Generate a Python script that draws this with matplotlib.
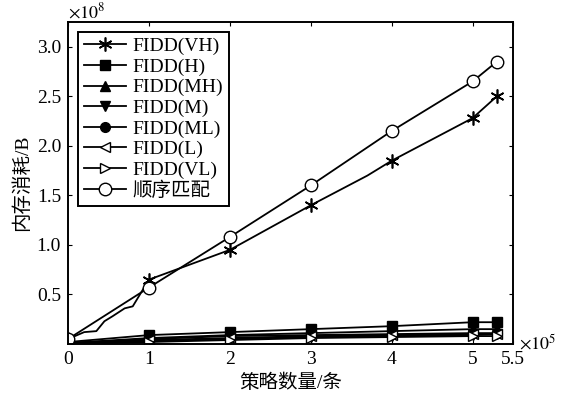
import matplotlib
matplotlib.use("Agg")
import matplotlib.pyplot as plt

plt.rcParams['font.family'] = ['Liberation Serif', 'Noto Sans CJK SC']
plt.rcParams['mathtext.fontset'] = 'stix'

x = [0, 1, 2, 3, 4, 5, 5.3]
# FIDD(VH) with unmarked intermediate points (jagged start)
x_vh = [0, 0.2, 0.35, 0.45, 0.55, 0.7, 0.8, 1, 2, 3, 3.7, 4, 5, 5.3]
vh = [0.05, 0.12, 0.13, 0.23, 0.28, 0.36, 0.38, 0.65, 0.95, 1.4, 1.7, 1.85, 2.28, 2.5]
vh_marks = [0, 7, 8, 9, 11, 12, 13]
h = [0.02, 0.09, 0.12, 0.15, 0.18, 0.22, 0.22]
mh = [0.01, 0.06, 0.09, 0.11, 0.13, 0.15, 0.15]
m = [0.0, 0.03, 0.05, 0.07, 0.08, 0.09, 0.10]
ml = [0.01, 0.05, 0.08, 0.09, 0.10, 0.11, 0.11]
lo = [0.01, 0.04, 0.06, 0.08, 0.09, 0.10, 0.10]
vl = [0.0, 0.02, 0.04, 0.06, 0.07, 0.08, 0.08]
seq = [0.05, 0.57, 1.08, 1.60, 2.15, 2.65, 2.85]

labels = ['FIDD(VH)', 'FIDD(H)', 'FIDD(MH)', 'FIDD(M)', 'FIDD(ML)', 'FIDD(L)', 'FIDD(VL)', '顺序匹配']
xticks = [0, 1, 2, 3, 4, 5, 5.5]
xticklabels = ['0', '1', '2', '3', '4', '5', '5.5']
yticks = [0.5, 1.0, 1.5, 2.0, 2.5, 3.0]

fig = plt.figure(figsize=(5.64, 4.04), dpi=100)
ax = fig.add_axes([0.1206, 0.1485, 0.789, 0.797])

kw = dict(color='black', lw=1.3, ms=7)
ax.plot(x_vh, vh, marker=(6, 2, 0), markevery=vh_marks, label=labels[0], mew=1.2,
        color='black', lw=1.3, ms=10)
ax.plot(x, h, marker='s', label=labels[1], **kw)
ax.plot(x, mh, marker='^', label=labels[2], **kw)
ax.plot(x, m, marker='v', label=labels[3], **kw)
ax.plot(x, ml, marker='o', label=labels[4], **kw)
ax.plot(x, lo, marker='<', mfc='white', label=labels[5], **kw)
ax.plot(x, vl, marker='>', mfc='white', label=labels[6], **kw)
ax.plot(x, seq, marker='o', mfc='white', label=labels[7], color='black', lw=1.3, ms=9)

ax.set_xlim(0, 5.5)
ax.set_ylim(0, 3.25)
ax.set_xticks(xticks)
ax.set_xticklabels(xticklabels)
ax.set_yticks(yticks)
ax.set_yticklabels([f'{v:.1f}' for v in yticks])
ax.tick_params(direction='in', length=3, labelsize=14, top=True, right=True, pad=5)
for s in ax.spines.values():
    s.set_linewidth(1.4)

ax.set_xlabel('策略数量/条', fontsize=14, labelpad=4)
ax.set_ylabel('内存消耗/B', fontsize=14, labelpad=4)

fig.text(0.12, 0.995, r'$\times 10^{8}$', fontsize=13, ha='left', va='top')
fig.text(0.92, 0.125, r'$\times 10^{5}$', fontsize=13, ha='left', va='bottom')

leg = ax.legend(loc='upper left', fontsize=14, frameon=True, fancybox=False,
                edgecolor='black', framealpha=1, borderaxespad=0.5,
                labelspacing=0.15, handlelength=2.2, handletextpad=0.3, borderpad=0.3)
leg.get_frame().set_linewidth(1.4)

fig.savefig('out.png', dpi=100)
